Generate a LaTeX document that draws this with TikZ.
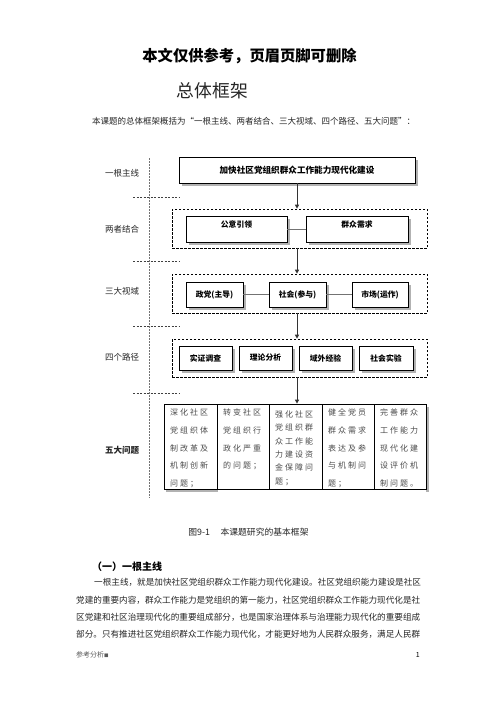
\documentclass[tikz,border=0pt]{standalone}
\usepackage{fontspec}
\setmainfont{Noto Sans CJK SC}
\newfontfamily\cjk{Noto Sans CJK SC}
\newfontfamily\cellfont[LetterSpace=25]{Noto Sans CJK SC}
\usetikzlibrary{arrows.meta,shadows}
\tikzset{
  box/.style={draw, line width=0.8pt, fill=white, inner sep=0pt,
    font=\cjk\bfseries\fontsize{7.8}{9}\selectfont,
    drop shadow={shadow xshift=2.5pt, shadow yshift=-2.5pt, fill=black!30, opacity=1}},
  dbox/.style={draw, dash pattern=on 2.5pt off 1.5pt, line width=0.7pt, inner sep=0pt},
  leftlab/.style={font=\cjk\fontsize{8.5}{10}\selectfont, text=black!85},
  conn/.style={draw=black!55, line width=1pt},
  arr/.style={draw=black!80, line width=1pt, -{Triangle[length=4pt,width=4pt]}},
  hdash/.style={draw=black!75, dash pattern=on 2pt off 1.5pt, line width=0.6pt},
  vdash/.style={draw=black!55, dash pattern=on 1.5pt off 1.5pt, line width=0.6pt},
  cell/.style={draw, line width=0.8pt, inner sep=0pt, minimum height=85pt, text=black!70},
  body/.style={anchor=west, inner sep=0pt, font=\cjk\fontsize{8.6}{10}\selectfont, text=black!85}
}
\newcommand{\celltext}[3]{\parbox[c][75pt][t]{#1}{\cellfont\fontsize{8}{#2}\selectfont #3}}
\begin{document}
\begin{tikzpicture}[x=1pt,y=-1pt]
\useasboundingbox (0,0) rectangle (496,702);
\fill[white] (0,0) rectangle (496,702);

% header
\node[font=\cjk\bfseries\fontsize{15.3}{16}\selectfont] (hdr) at (249.5,56) {本文仅供参考，页眉页脚可删除};
\node[font=\cjk\fontsize{17.8}{19}\selectfont, text=black!85] (title) at (212.5,91) {总体框架};
\node[anchor=west, inner sep=0pt, font=\cjk\fontsize{8.5}{10}\selectfont, text=black!85] (intro) at (92,121) {本课题的总体框架概括为“一根主线、两者结合、三大视域、四个路径、五大问题”：};

% left guide lines
\coordinate (vtop) at (149,158);
\coordinate (vbot) at (149,498);
\draw[vdash] (vtop) -- (vbot);
\coordinate (h1a) at (133,197); \coordinate (h1b) at (179,197);
\coordinate (h2a) at (133,261); \coordinate (h2b) at (179,261);
\coordinate (h3a) at (133,326); \coordinate (h3b) at (179,326);
\coordinate (h4a) at (133,393); \coordinate (h4b) at (179,393);
\draw[hdash] (h1a) -- (h1b);
\draw[hdash] (h2a) -- (h2b);
\draw[hdash] (h3a) -- (h3b);
\draw[hdash] (h4a) -- (h4b);

% left labels
\node[leftlab] (l1) at (122,173) {一根主线};
\node[leftlab] (l2) at (122,229) {两者结合};
\node[leftlab] (l3) at (122,291) {三大视域};
\node[leftlab] (l4) at (122,357) {四个路径};
\node[leftlab, font=\cjk\bfseries\fontsize{8.5}{10}\selectfont] (l5) at (122,450) {五大问题};

% main line
\node[box, minimum width=236pt, minimum height=26pt, font=\cjk\bfseries\fontsize{8.6}{10}\selectfont] (main) at (297,170) {加快社区党组织群众工作能力现代化建设};

% level 2
\node[dbox, minimum width=255pt, minimum height=39pt] (d2) at (299.5,228.5) {};
\node[box, minimum width=101pt, minimum height=26pt, text height=5pt, text depth=8pt] (gy) at (236.5,229) {公意引领};
\node[box, minimum width=102pt, minimum height=26pt, text height=5pt, text depth=8pt] (qz) at (357,229) {群众需求};
\draw[conn] (gy.east) -- (qz.west);

% level 3
\node[dbox, minimum width=255pt, minimum height=39pt] (d3) at (299.5,293.5) {};
\node[box, minimum width=57pt, minimum height=25pt] (zd) at (214.5,294.5) {政党(主导)};
\node[box, minimum width=57pt, minimum height=25pt] (sh) at (297.5,294.5) {社会(参与)};
\node[box, minimum width=56pt, minimum height=25pt] (sc) at (380,294.5) {市场(运作)};
\draw[conn] (zd.east) -- (sh.west);
\draw[conn] (sh.east) -- (sc.west);

% level 4
\node[dbox, minimum width=255pt, minimum height=38pt] (d4) at (299.5,358) {};
\node[box, minimum width=53pt, minimum height=24pt] (p1) at (205.5,358) {实证调查};
\node[box, minimum width=53pt, minimum height=24pt] (p2) at (265.5,358) {理论分析};
\node[box, minimum width=53pt, minimum height=24pt] (p3) at (325.5,358) {域外经验};
\node[box, minimum width=54pt, minimum height=24pt] (p4) at (386,358) {社会实验};

% level 5 shadows
\fill[black!30] (426,407) rectangle (429,492);
\fill[black!30] (166,489) rectangle (218,492);
% level 5 cells
\node[cell, minimum width=53pt] (c1) at (190.5,446.5) {\celltext{41pt}{17.7pt}{深化社区\\党组织体\\制改革及\\机制创新\\问题；}};
\node[cell, minimum width=52pt] (c2) at (243,446.5) {\celltext{40pt}{17.7pt}{转变社区\\党组织行\\政化严重\\的问题；}};
\node[cell, minimum width=53pt] (c3) at (295.5,446.5) {\celltext{41pt}{13.4pt}{\vspace*{1.5pt}强化社区\\党组织群\\众工作能\\力建设资\\金保障问\\题；}};
\node[cell, minimum width=52pt] (c4) at (348,446.5) {\celltext{40pt}{17.7pt}{健全党员\\群众需求\\表达及参\\与机制问\\题；}};
\node[cell, minimum width=52pt] (c5) at (400,446.5) {\celltext{40pt}{17.7pt}{完善群众\\工作能力\\现代化建\\设评价机\\制问题。}};

% arrows
\draw[arr] (main.south) -- (main.south |- d2.north);
\draw[arr] (d2.south -| main.south) -- (d3.north -| main.south);
\draw[arr] (d3.south -| main.south) -- (d4.north -| main.south);
\draw[arr] (d4.south -| main.south) -- (c3.north -| main.south);

% caption and text
\node[font=\cjk\fontsize{8.8}{10}\selectfont, text=black!85] (cap) at (248.5,532) {图9-1\hspace{1.2em}本课题研究的基本框架};
\node[anchor=west, inner sep=0pt, font=\cjk\bfseries\fontsize{10}{12}\selectfont] (sec) at (92,567) {（一）一根主线};
\node[body] (b1) at (94,582) {一根主线，就是加快社区党组织群众工作能力现代化建设。社区党组织能力建设是社区};
\node[body] (b2) at (76,600) {党建的重要内容，群众工作能力是党组织的第一能力，社区党组织群众工作能力现代化是社};
\node[body] (b3) at (76,617) {区党建和社区治理现代化的重要组成部分，也是国家治理体系与治理能力现代化的重要组成};
\node[body] (b4) at (76,634) {部分。只有推进社区党组织群众工作能力现代化，才能更好地为人民群众服务，满足人民群};

% footer
\node[anchor=west, inner sep=0pt, font=\cjk\fontsize{7}{8}\selectfont, text=black!65] (foot) at (76,655) {参考分析{\fontsize{4.5}{5}\selectfont ■}};
\node[anchor=east, inner sep=0pt, font=\cjk\fontsize{7}{8}\selectfont] (pg) at (420,655) {1};
\end{tikzpicture}
\end{document}
